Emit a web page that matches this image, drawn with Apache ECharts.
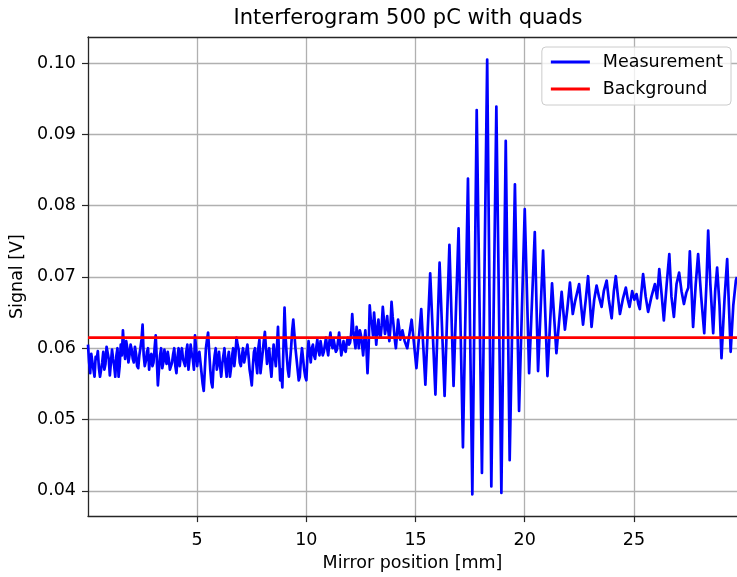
<!DOCTYPE html>
<html>
<head>
<meta charset="utf-8">
<script src="https://cdn.jsdelivr.net/npm/echarts@6/dist/echarts.min.js"></script>
<style>html,body{margin:0;padding:0;background:#fff;}#c{width:737px;height:577px;}</style>
</head>
<body>
<div id="c"></div>
<script>
// ---- data ----
var titleText = 'Interferogram 500 pC with quads';
var xName = 'Mirror position [mm]';
var yName = 'Signal [V]';
var xTicks = [5, 10, 15, 20, 25];
var yTicks = [0.04, 0.05, 0.06, 0.07, 0.08, 0.09, 0.10];

var leftX = [
  0.00,0.05,0.10,0.15,0.20,0.25,0.30,0.35,0.40,0.45,0.50,0.55,0.60,0.65,0.70,0.75,0.80,0.85,0.90,0.95,
  1.00,1.05,1.10,1.15,1.20,1.25,1.30,1.35,1.40,1.45,1.50,1.55,1.60,1.65,1.70,1.75,1.80,1.85,1.90,1.95,
  2.00,2.05,2.10,2.15,2.20,2.25,2.30,2.35,2.40,2.45,2.50,2.55,2.60,2.65,2.70,2.75,2.80,2.85,2.90,2.95,
  3.00,3.05,3.10,3.15,3.20,3.25,3.30,3.35,3.40,3.45,3.50,3.55,3.60,3.65,3.70,3.75,3.80,3.85,3.90,3.95,
  4.00,4.05,4.10,4.15,4.20,4.25,4.30,4.35,4.40,4.45,4.50,4.55,4.60,4.65,4.70,4.75,4.80,4.85,4.90,4.95,
  5.00,5.05,5.10,5.15,5.20,5.25,5.30,5.35,5.40,5.45,5.50,5.55,5.60,5.65,5.70,5.75,5.80,5.85,5.90,5.95,
  6.00,6.05,6.10,6.15,6.20,6.25,6.30,6.35,6.40,6.45,6.50,6.55,6.60,6.65,6.70,6.75,6.80,6.85,6.90,6.95,
  7.00,7.05,7.10,7.15,7.20,7.25,7.30,7.35,7.40,7.45,7.50,7.55,7.60,7.65,7.70,7.75,7.80,7.85,7.90,7.95,
  8.00,8.05,8.10,8.15,8.20,8.25,8.30,8.35,8.40,8.45,8.50,8.55,8.60,8.65,8.70,8.75,8.80,8.85,8.90,8.95,
  9.00,9.05,9.10,9.15,9.20,9.25,9.30,9.35,9.40,9.45,9.50,9.55,9.60,9.65,9.70,9.75,9.80,9.85,9.90,9.95,
  10.00,10.05,10.10,10.15,10.20,10.25,10.30,10.35,10.40,10.45,10.50,10.55,10.60,10.65,10.70,10.75,10.80,10.85,10.90,10.95,
  11.00,11.05,11.10,11.15,11.20,11.25,11.30,11.35,11.40,11.45,11.50,11.55,11.60,11.65,11.70,11.75,11.80,11.85,11.90,11.95,
  12.00,12.05,12.10,12.15,12.20,12.25,12.30,12.35,12.40,12.45,12.50,12.55,12.60,12.65,12.70,12.75,12.80,12.85,12.90,12.95,
  13.00,13.05,13.10,13.15,13.20,13.25,13.30,13.35,13.40,13.45,13.50,13.55,13.60,13.65,13.70,13.75,13.80,13.85,13.90,13.95,
  14.00,14.05,14.10,14.15,14.20,14.25,14.30,14.35,14.40];
var leftY = [
  0.0605,0.0580,0.0565,0.0592,0.0590,0.0570,0.0560,0.0588,0.0585,0.0596,0.0572,0.0560,0.0558,0.0580,0.0595,0.0570,0.0578,0.0602,0.0600,0.0585,
  0.0562,0.0580,0.0598,0.0585,0.0575,0.0560,0.0590,0.0600,0.0560,0.0575,0.0605,0.0590,0.0625,0.0600,0.0585,0.0610,0.0600,0.0580,0.0590,0.0605,
  0.0598,0.0585,0.0580,0.0602,0.0592,0.0575,0.0572,0.0590,0.0600,0.0612,0.0633,0.0590,0.0575,0.0582,0.0595,0.0600,0.0570,0.0588,0.0592,0.0575,
  0.0580,0.0600,0.0618,0.0585,0.0548,0.0570,0.0590,0.0600,0.0572,0.0580,0.0598,0.0585,0.0578,0.0595,0.0585,0.0570,0.0568,0.0580,0.0592,0.0600,
  0.0575,0.0565,0.0588,0.0600,0.0575,0.0590,0.0600,0.0585,0.0580,0.0575,0.0595,0.0605,0.0570,0.0585,0.0605,0.0592,0.0585,0.0570,0.0618,0.0600,
  0.0575,0.0590,0.0595,0.0580,0.0565,0.0550,0.0540,0.0570,0.0600,0.0612,0.0622,0.0595,0.0570,0.0552,0.0545,0.0575,0.0590,0.0600,0.0570,0.0580,
  0.0595,0.0575,0.0560,0.0578,0.0590,0.0600,0.0575,0.0560,0.0585,0.0595,0.0560,0.0572,0.0590,0.0600,0.0575,0.0590,0.0615,0.0605,0.0598,0.0580,
  0.0575,0.0590,0.0600,0.0580,0.0588,0.0596,0.0605,0.0590,0.0570,0.0560,0.0548,0.0575,0.0595,0.0600,0.0580,0.0565,0.0600,0.0612,0.0565,0.0580,
  0.0595,0.0610,0.0623,0.0600,0.0578,0.0592,0.0600,0.0575,0.0560,0.0585,0.0605,0.0590,0.0575,0.0600,0.0630,0.0590,0.0555,0.0570,0.0545,0.0600,
  0.0657,0.0615,0.0590,0.0570,0.0560,0.0580,0.0600,0.0625,0.0640,0.0620,0.0600,0.0585,0.0570,0.0555,0.0560,0.0585,0.0600,0.0585,0.0570,0.0560,
  0.0555,0.0590,0.0610,0.0595,0.0580,0.0600,0.0605,0.0590,0.0585,0.0600,0.0612,0.0598,0.0590,0.0610,0.0608,0.0590,0.0595,0.0605,0.0615,0.0600,
  0.0590,0.0608,0.0622,0.0605,0.0600,0.0612,0.0612,0.0595,0.0598,0.0610,0.0622,0.0605,0.0590,0.0600,0.0610,0.0598,0.0595,0.0608,0.0615,0.0605,
  0.0608,0.0620,0.0648,0.0625,0.0612,0.0600,0.0630,0.0618,0.0600,0.0625,0.0618,0.0605,0.0590,0.0610,0.0625,0.0600,0.0565,0.0600,0.0660,0.0640,
  0.0635,0.0618,0.0650,0.0630,0.0605,0.0625,0.0640,0.0620,0.0615,0.0632,0.0658,0.0640,0.0620,0.0630,0.0645,0.0625,0.0610,0.0630,0.0665,0.0645,
  0.0630,0.0612,0.0600,0.0620,0.0640,0.0628,0.0612,0.0618,0.0625];

var burstX = [14.5,14.62,14.82,15.04,15.26,15.45,15.67,15.91,16.1,16.33,16.55,16.74,16.97,17.17,17.4,17.6,17.8,18.04,18.28,18.47,
  18.7,18.93,19.13,19.31,19.55,19.74,20.0,20.2,20.46,20.61,20.84,21.04,21.25,21.45];
var burstY = [0.0610,0.0600,0.0640,0.0572,0.0655,0.0549,0.0705,0.0535,0.0720,0.0533,0.0745,0.0547,0.0768,0.0461,0.0838,0.0395,0.0934,0.0425,0.1005,0.0406,
  0.0939,0.0397,0.0891,0.0443,0.0830,0.0512,0.0795,0.0565,0.0763,0.0568,0.0737,0.0561,0.0691,0.0593];

var rightX = [21.69,21.84,21.95,22.07,22.2,22.3,22.49,22.58,22.67,22.8,22.9,23.06,23.18,23.29,23.4,23.52,23.62,23.75,23.85,23.98,
  24.08,24.17,24.27,24.36,24.5,24.63,24.72,24.8,24.92,25.02,25.12,25.2,25.27,25.42,25.54,25.65,25.8,25.96,26.06,26.16,
  26.27,26.37,26.5,26.62,26.72,26.83,26.95,27.07,27.18,27.29,27.4,27.49,27.56,27.71,27.83,27.94,28.08,28.22,28.32,28.4,
  28.5,28.63,28.72,28.81,28.92,29.01,29.15,29.27,29.35,29.43,29.55,29.67,29.72];
var rightY = [0.0679,0.0626,0.0655,0.0692,0.0648,0.0665,0.0690,0.0660,0.0633,0.0670,0.0701,0.0630,0.0668,0.0688,0.0672,0.0658,0.0680,0.0695,0.0668,0.0642,
  0.0680,0.0701,0.0672,0.0648,0.0670,0.0685,0.0668,0.0658,0.0680,0.0668,0.0676,0.0662,0.0655,0.0704,0.0672,0.0651,0.0672,0.0690,0.0670,0.0711,
  0.0675,0.0639,0.0690,0.0732,0.0672,0.0644,0.0690,0.0706,0.0680,0.0662,0.0678,0.0685,0.0736,0.0630,0.0690,0.0732,0.0672,0.0621,0.0690,0.0765,
  0.0690,0.0621,0.0680,0.0713,0.0660,0.0586,0.0670,0.0725,0.0660,0.0595,0.0660,0.0695,0.0700];

var backgroundX = [0.0, 29.72];
var backgroundY = [0.0615, 0.0615];

// ---- build ----
function zip(xs, ys) { var out = []; for (var i = 0; i < xs.length; i++) out.push([xs[i], ys[i]]); return out; }
var measurement = zip(leftX, leftY).concat(zip(burstX, burstY), zip(rightX, rightY));
var background = zip(backgroundX, backgroundY);

var FONT = 'DejaVu Sans';
var AX = '#262626';
var GRID = '#b0b0b0';

var chart = echarts.init(document.getElementById('c'), null, {renderer: 'canvas'});
chart.setOption({
  animation: false,
  backgroundColor: '#ffffff',
  title: {
    text: titleText, left: 408, top: 8, textAlign: 'center', padding: 0,
    textStyle: {fontFamily: FONT, fontSize: 21, fontWeight: 'normal', color: '#000'}
  },
  legend: {
    orient: 'vertical', right: 6, top: 47,
    padding: [5, 8, 6, 9], itemGap: 7, itemWidth: 39, itemHeight: 3,
    backgroundColor: 'rgba(255,255,255,0.8)', borderColor: '#cccccc', borderWidth: 1, borderRadius: 4,
    textStyle: {fontFamily: FONT, fontSize: 17.5, color: '#000', padding: [0, 0, 0, 8], lineHeight: 20},
    data: [{name: 'Measurement', icon: 'rect'}, {name: 'Background', icon: 'rect'}]
  },
  grid: {left: 88, right: 0, top: 37, bottom: 55, containLabel: false},
  xAxis: [{
    type: 'value', position: 'bottom', min: 0, max: 29.72,
    name: xName, nameLocation: 'middle', nameGap: 37,
    nameTextStyle: {fontFamily: FONT, fontSize: 17.5, color: '#000'},
    axisLine: {show: true, onZero: false, lineStyle: {color: AX, width: 1.3}},
    axisTick: {show: true, inside: false, length: 6, customValues: xTicks, lineStyle: {color: AX, width: 1.2}},
    axisLabel: {show: true, margin: 15, customValues: xTicks, fontFamily: FONT, fontSize: 17.5, color: '#000'},
    splitLine: {show: true, lineStyle: {color: GRID, width: 1.3}}
  }, {
    type: 'value', position: 'top', min: 0, max: 29.72,
    axisLine: {show: true, onZero: false, lineStyle: {color: AX, width: 1.3}},
    axisTick: {show: false}, axisLabel: {show: false}, splitLine: {show: false}
  }],
  yAxis: {
    type: 'value', min: 0.03645, max: 0.10366,
    name: yName, nameLocation: 'middle', nameGap: 58, nameRotate: 90,
    nameTextStyle: {fontFamily: FONT, fontSize: 17.5, color: '#000'},
    axisLine: {show: true, onZero: false, lineStyle: {color: AX, width: 1.3}},
    axisTick: {show: true, inside: false, length: 6, customValues: yTicks, lineStyle: {color: AX, width: 1.2}},
    axisLabel: {show: true, margin: 12, customValues: yTicks, fontFamily: FONT, fontSize: 17.5, color: '#000',
      formatter: function (v) { return v.toFixed(2); }},
    splitLine: {show: true, lineStyle: {color: GRID, width: 1.3}}
  },
  series: [{
    name: 'Measurement', type: 'line', xAxisIndex: 0, data: measurement,
    showSymbol: false, symbol: 'none', color: '#0000ff',
    lineStyle: {color: '#0000ff', width: 2.7, join: 'round'}, z: 2
  }, {
    name: 'Background', type: 'line', xAxisIndex: 0, data: background,
    showSymbol: false, symbol: 'none', color: '#ff0000',
    lineStyle: {color: '#ff0000', width: 2.7}, z: 3
  }]
});
</script>
</body>
</html>
